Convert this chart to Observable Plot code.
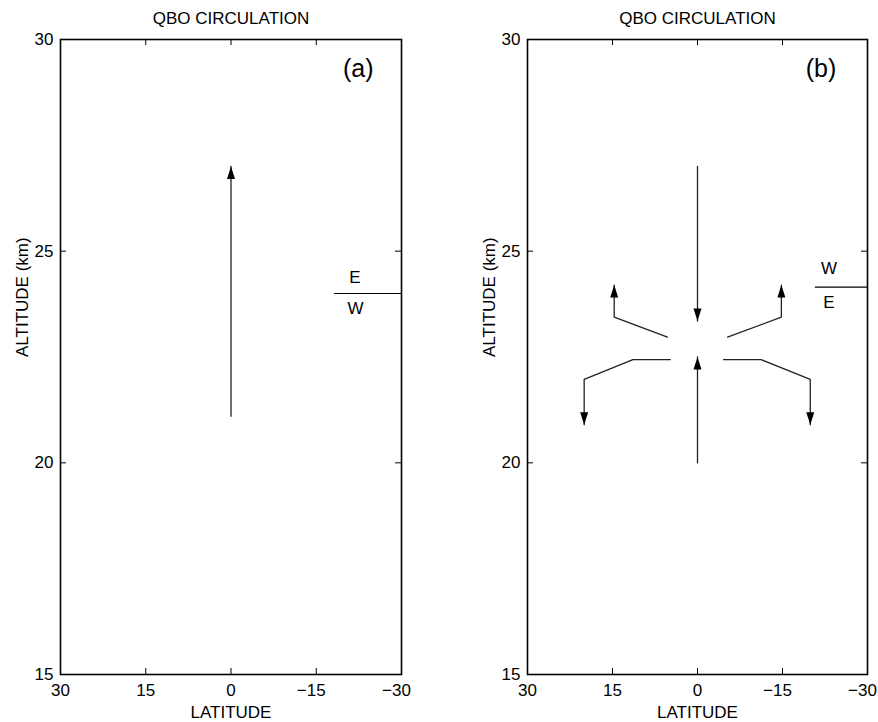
<!DOCTYPE html>
<html>
<head>
<meta charset="utf-8">
<script src="https://cdn.jsdelivr.net/npm/d3@7"></script>
<script src="https://cdn.jsdelivr.net/npm/@observablehq/plot@0.6"></script>
<style>
  html, body { margin: 0; padding: 0; background: #fff; }
  #wrap { display: flex; flex-direction: row; width: 878px; height: 722px; }
</style>
</head>
<body>
<div id="wrap"></div>
<script>
// ---------- shared axis values ----------
const titleText = "QBO CIRCULATION";
const xLabel = "LATITUDE";
const yLabel = "ALTITUDE (km)";
const xDomain = [30, -30];
const yDomain = [15, 30];
const xTicksNonNeg = [30, 15, 0];
const xTicksNeg = [-15, -30];
const xInnerTicks = [15, 0, -15];
const yTicks = [15, 20, 25, 30];
const yInnerTicks = [20, 25];

// ---------- panel (a) ----------
const panelTagA = [{lat: -22.4, alt: 29.31, text: "(a)"}];
const pathsA = [
  {path: "rise", lat: 0, alt: 21.1},
  {path: "rise", lat: 0, alt: 27.0}
];
const windLineA = [{lat: -18.2, alt: 24.0}, {lat: -30, alt: 24.0}];
const windLabelsA = [
  {lat: -21.8, alt: 24.38, text: "E"},
  {lat: -21.9, alt: 23.64, text: "W"}
];

// ---------- panel (b) ----------
const panelTagB = [{lat: -21.8, alt: 29.31, text: "(b)"}];
const pathsB = [
  {path: "descent", lat: 0, alt: 27.0},
  {path: "descent", lat: 0, alt: 23.35},
  {path: "ascent", lat: 0, alt: 20.0},
  {path: "ascent", lat: 0, alt: 22.5},
  {path: "upperN", lat: 5.3, alt: 22.97},
  {path: "upperN", lat: 14.7, alt: 23.44},
  {path: "upperN", lat: 14.7, alt: 24.2},
  {path: "upperS", lat: -5.3, alt: 22.97},
  {path: "upperS", lat: -14.8, alt: 23.44},
  {path: "upperS", lat: -14.8, alt: 24.2},
  {path: "lowerN", lat: 4.8, alt: 22.44},
  {path: "lowerN", lat: 11.4, alt: 22.44},
  {path: "lowerN", lat: 20.0, alt: 21.97},
  {path: "lowerN", lat: 20.0, alt: 20.9},
  {path: "lowerS", lat: -4.6, alt: 22.44},
  {path: "lowerS", lat: -11.2, alt: 22.44},
  {path: "lowerS", lat: -19.9, alt: 21.97},
  {path: "lowerS", lat: -19.9, alt: 20.9}
];
const windLineB = [{lat: -20.8, alt: 24.15}, {lat: -30, alt: 24.15}];
const windLabelsB = [
  {lat: -23.2, alt: 24.58, text: "W"},
  {lat: -23.2, alt: 23.78, text: "E"}
];

// ---------- arrow heads (filled triangles, tip at origin) ----------
const headUp = {draw(ctx) { ctx.moveTo(0, 0); ctx.lineTo(4, 12.5); ctx.lineTo(-4, 12.5); ctx.closePath(); }};
const headDown = {draw(ctx) { ctx.moveTo(0, 0); ctx.lineTo(4, -12.5); ctx.lineTo(-4, -12.5); ctx.closePath(); }};

function headsOf(paths) {
  const groups = d3.groups(paths, d => d.path);
  return groups.map(([, pts]) => {
    const a = pts[pts.length - 2], b = pts[pts.length - 1];
    return {lat: b.lat, alt: b.alt, dir: b.alt > a.alt ? "up" : "down"};
  });
}

const FONT = "'Liberation Sans', Arial, Helvetica, sans-serif";

function panel({marginLeft, marginRight, paths, windLine, windLabels, tag}) {
  const width = 439, height = 722, marginTop = 39, marginBottom = 48;
  const innerW = width - marginLeft - marginRight;
  const innerH = height - marginTop - marginBottom;
  const heads = headsOf(paths);
  return Plot.plot({
    width, height, marginLeft, marginRight, marginTop, marginBottom,
    style: {fontSize: "17px", fontFamily: FONT, color: "#000", background: "#fff", overflow: "visible"},
    x: {domain: xDomain},
    y: {domain: yDomain},
    marks: [
      // tick labels
      Plot.axisX({ticks: xTicksNonNeg, tickSize: 0, tickPadding: 9, label: null, fontSize: 17}),
      Plot.axisX({ticks: xTicksNeg, tickSize: 0, tickPadding: 9, label: null, fontSize: 17, dx: -5}),
      Plot.axisY({ticks: yTicks, tickSize: 0, tickPadding: 7, label: null, fontSize: 17}),
      // inward ticks
      Plot.ruleX(xInnerTicks, {x: d => d, insetTop: innerH - 6, stroke: "#000", strokeWidth: 1}),
      Plot.ruleX(xInnerTicks, {x: d => d, insetBottom: innerH - 6, stroke: "#000", strokeWidth: 1}),
      Plot.ruleY(yInnerTicks, {y: d => d, insetRight: innerW - 6, stroke: "#000", strokeWidth: 1}),
      Plot.ruleY(yInnerTicks, {y: d => d, insetLeft: innerW - 6, stroke: "#000", strokeWidth: 1}),
      // axis titles
      Plot.text([xLabel], {text: d => d, frameAnchor: "bottom", lineAnchor: "middle", dy: 38, fontSize: 17}),
      Plot.text([yLabel], {text: d => d, frameAnchor: "left", lineAnchor: "middle", dx: -38, rotate: -90, fontSize: 17}),
      Plot.text([titleText], {text: d => d, frameAnchor: "top", lineAnchor: "middle", dy: -21, fontSize: 17}),
      // panel tag
      Plot.text(tag, {x: "lat", y: "alt", text: "text", fontSize: 25}),
      // wind regime divider
      Plot.line(windLine, {x: "lat", y: "alt", stroke: "#000", strokeWidth: 1.2}),
      Plot.text(windLabels, {x: "lat", y: "alt", text: "text", fontSize: 17}),
      // circulation paths
      Plot.line(paths, {x: "lat", y: "alt", z: "path", stroke: "#222", strokeWidth: 1.3, strokeLinejoin: "miter"}),
      Plot.dot(heads.filter(d => d.dir === "up"), {x: "lat", y: "alt", symbol: headUp, fill: "#000", stroke: "none"}),
      Plot.dot(heads.filter(d => d.dir === "down"), {x: "lat", y: "alt", symbol: headDown, fill: "#000", stroke: "none"}),
      Plot.frame({stroke: "#000", strokeWidth: 1.6})
    ]
  });
}

const wrap = document.getElementById("wrap");
wrap.append(panel({marginLeft: 60, marginRight: 38, paths: pathsA, windLine: windLineA, windLabels: windLabelsA, tag: panelTagA}));
wrap.append(panel({marginLeft: 88, marginRight: 11, paths: pathsB, windLine: windLineB, windLabels: windLabelsB, tag: panelTagB}));
</script>
</body>
</html>
